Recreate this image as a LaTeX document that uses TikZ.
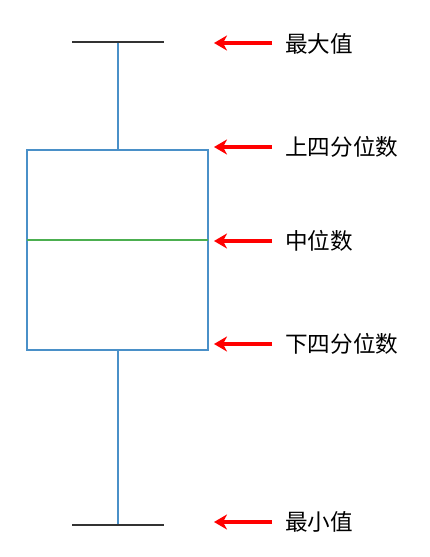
\documentclass[tikz,border=0pt]{standalone}
\usepackage{fontspec}
\newfontfamily\cjk{Noto Sans CJK SC}
\usetikzlibrary{arrows.meta}
\definecolor{boxblue}{HTML}{4A90C8}
\definecolor{medgreen}{HTML}{4CAF50}
\definecolor{capgray}{HTML}{333333}
\begin{document}
\begin{tikzpicture}[x=1pt,y=-1pt,
  boxline/.style={draw=boxblue,line width=1.5pt},
  medline/.style={draw=medgreen,line width=1.5pt},
  capline/.style={draw=capgray,line width=1.5pt},
  redarrow/.style={draw=red,line width=3.2pt,-{Stealth[length=13pt,width=15pt,inset=4pt]}},
  lab/.style={anchor=west,inner sep=0pt,font=\cjk\fontsize{22.6}{22.6}\selectfont}]
\useasboundingbox (0,0) rectangle (429,557);
% box plot geometry
\coordinate (topcapL) at (72,42);
\coordinate (topcapR) at (164,42);
\coordinate (topmid) at (118,42);
\coordinate (botcapL) at (72,525);
\coordinate (botcapR) at (164,525);
\coordinate (botmid) at (118,525);
\coordinate (boxTL) at (27,150);
\coordinate (boxBR) at (208,350);
\coordinate (boxTmid) at (118,150);
\coordinate (boxBmid) at (118,350);
\coordinate (medL) at (27,240);
\coordinate (medR) at (208,240);
\draw[boxline] (topmid) -- (boxTmid);
\draw[boxline] (boxBmid) -- (botmid);
\draw[capline] (topcapL) -- (topcapR);
\draw[capline] (botcapL) -- (botcapR);
\draw[boxline] (boxTL) rectangle (boxBR);
\draw[medline] (medL) -- (medR);
% labels
\node[lab] (l1) at (285,44) {最大值};
\node[lab] (l2) at (285,147) {上四分位数};
\node[lab] (l3) at (285,241) {中位数};
\node[lab] (l4) at (285,344) {下四分位数};
\node[lab] (l5) at (285,522) {最小值};
\foreach \n/\y in {1/43,2/147,3/241,4/344,5/522}{
  \coordinate (t\n) at (272,\y);
  \coordinate (h\n) at (214,\y);
  \draw[redarrow] (t\n) -- (h\n);
}
\end{tikzpicture}
\end{document}
